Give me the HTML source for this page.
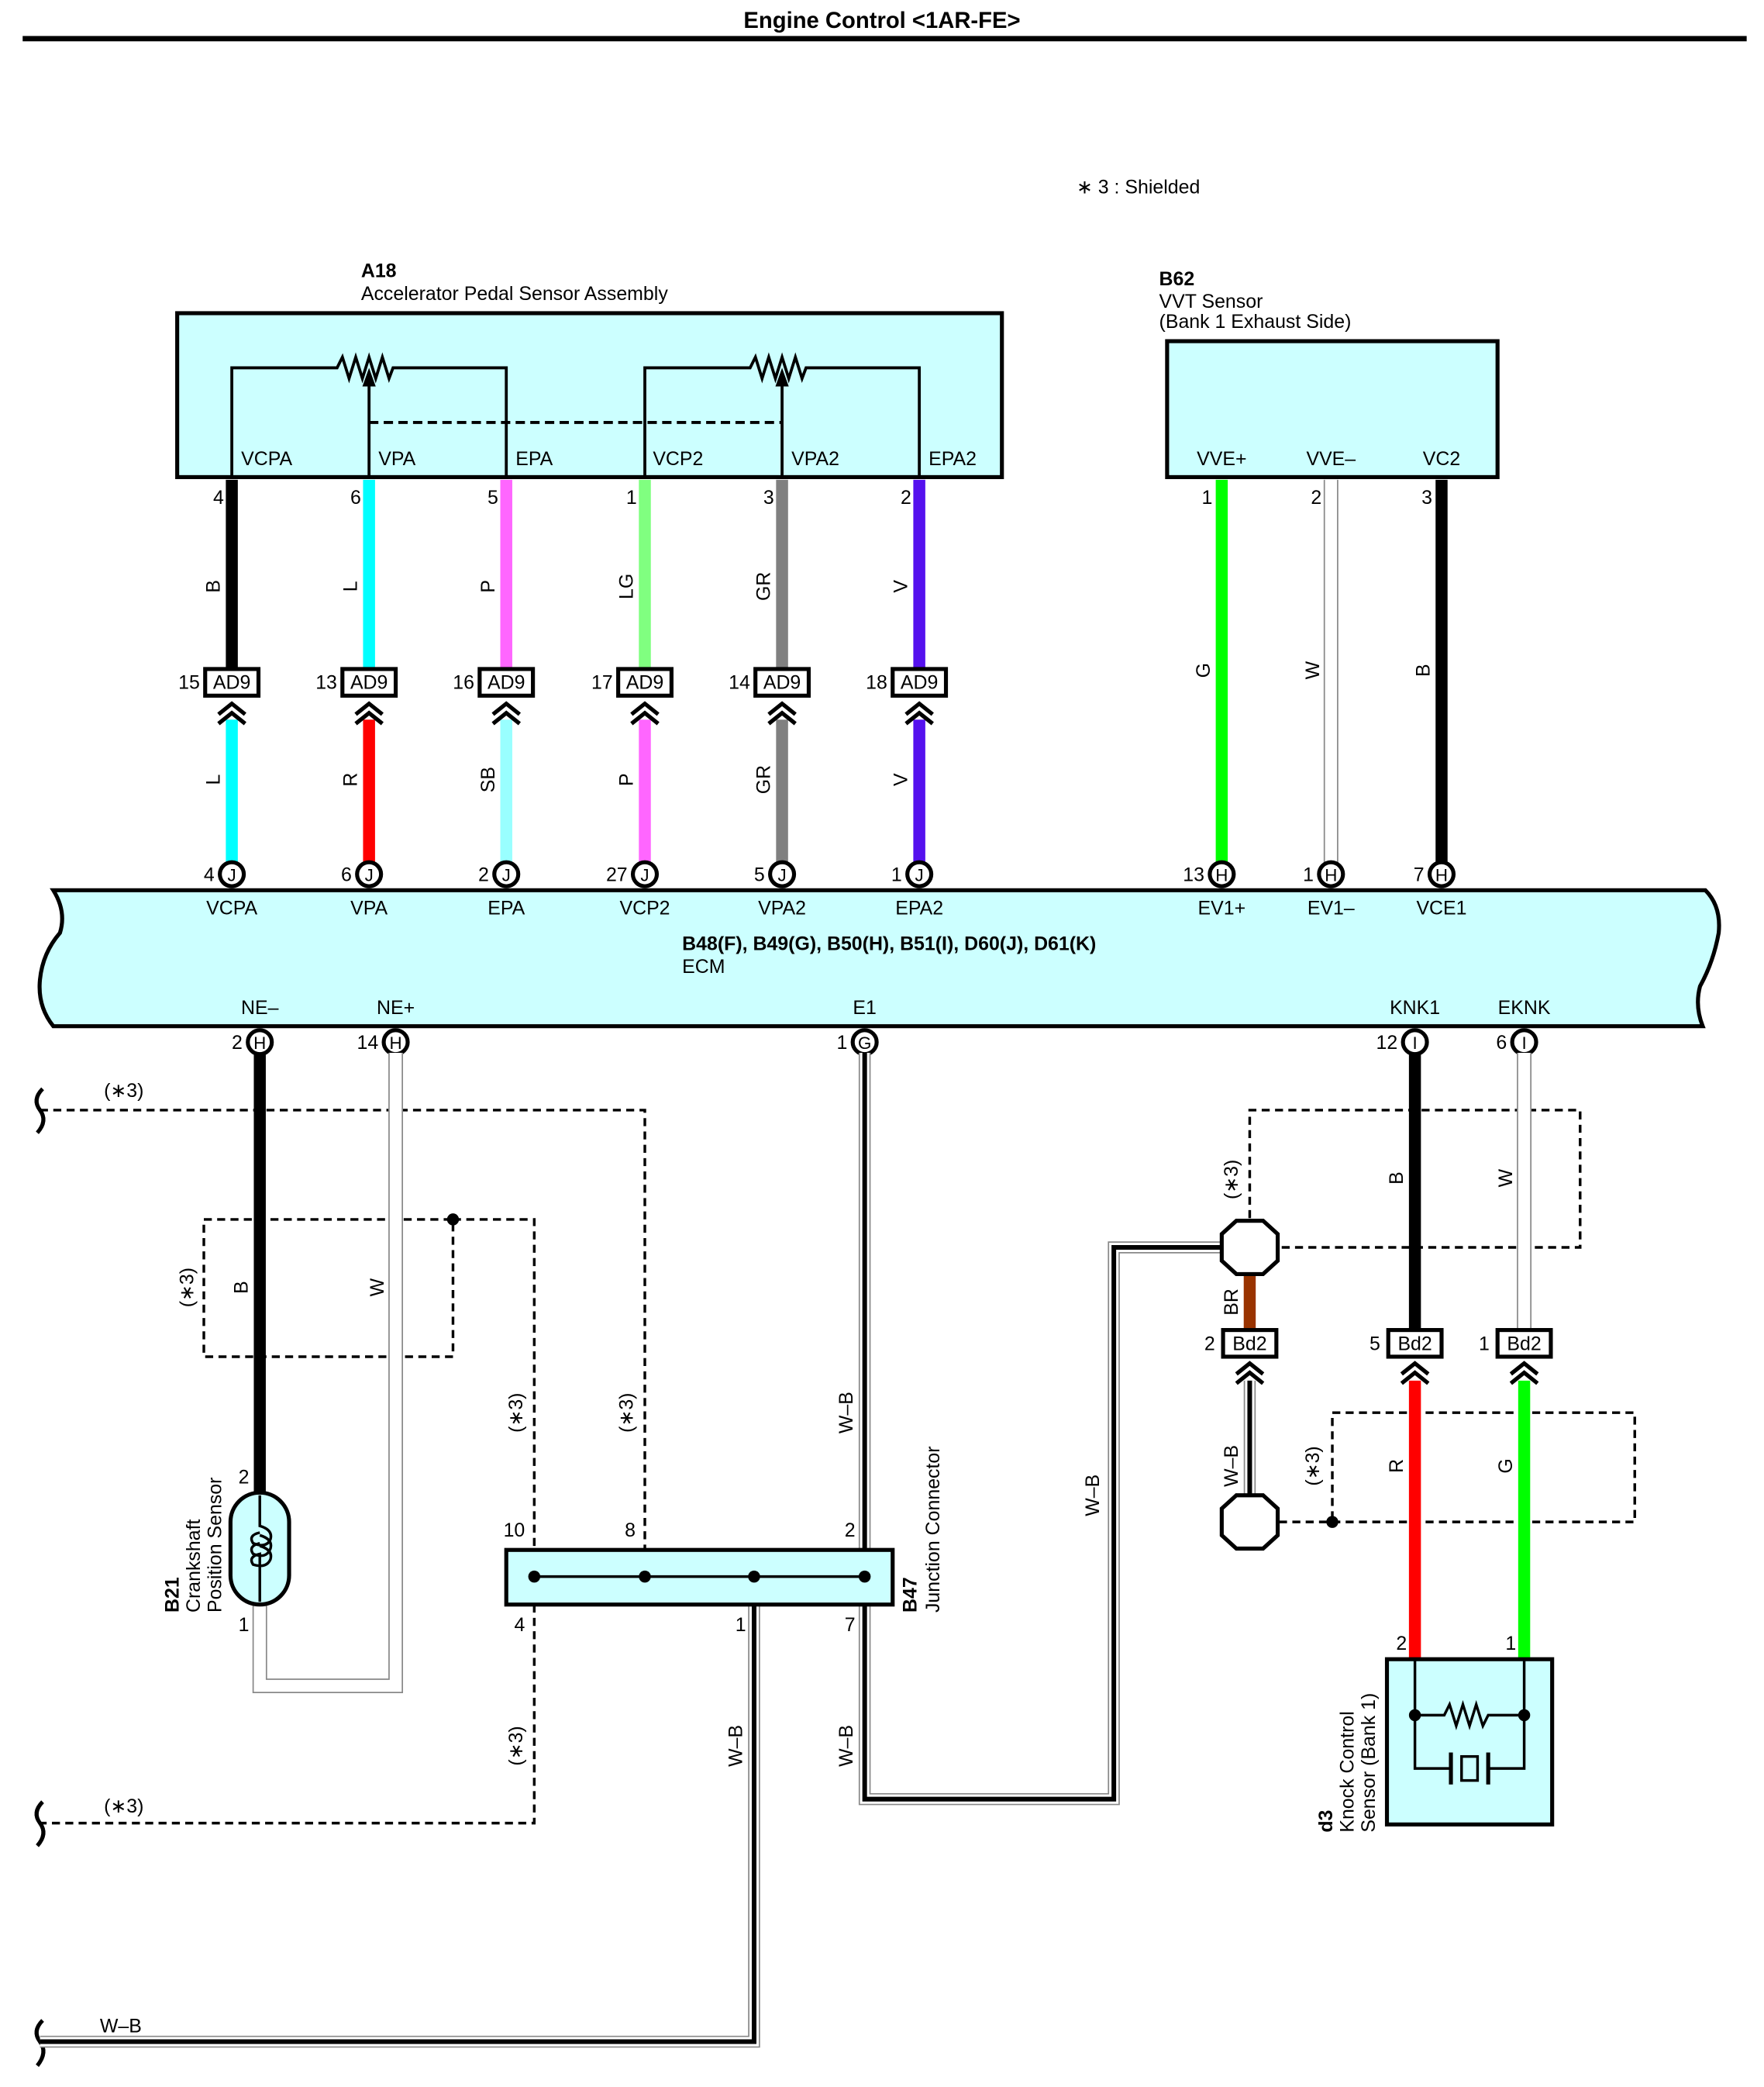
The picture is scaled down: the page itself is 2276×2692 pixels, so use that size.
<!DOCTYPE html>
<html><head><meta charset="utf-8"><style>
html,body{margin:0;padding:0;background:#fff}
svg{display:block}
text{font-family:"Liberation Sans",sans-serif;font-size:14.5px;fill:#000}
.b{font-weight:bold}
.c{text-anchor:middle}
.e{text-anchor:end}
</style></head><body>
<svg width="2276" height="2692" viewBox="0 0 1324 1566" xmlns="http://www.w3.org/2000/svg">
<defs>
<g id="ch" fill="none" stroke="#000" stroke-width="3"><polyline points="-10,9 0,1 10,9"/><polyline points="-10,16 0,8 10,16"/></g>
</defs>
<rect width="1324" height="1566" fill="#fff"/>
<text x="662" y="21" class="b c" style="font-size:17px">Engine Control &lt;1AR-FE&gt;</text>
<rect x="17" y="27" width="1294" height="4" fill="#000"/>
<text x="808" y="145">∗ 3 : Shielded</text>

<!-- A18 -->
<text x="271" y="208" class="b">A18</text>
<text x="271" y="225">Accelerator Pedal Sensor Assembly</text>
<rect x="133" y="235" width="619" height="123" fill="#ccffff" stroke="#000" stroke-width="3"/>
<g fill="none" stroke="#000" stroke-width="2.2">
<polyline points="174,358 174,276 253,276 257,268 262,284 267,268 272,284 277,268 282,284 287,268 292,284 295,276 380,276 380,358"/>
<line x1="277" y1="358" x2="277" y2="288"/>
<polyline points="484,358 484,276 563,276 567,268 572,284 577,268 582,284 587,268 592,284 597,268 602,284 605,276 690,276 690,358"/>
<line x1="587" y1="358" x2="587" y2="288"/>
<line x1="277" y1="317" x2="586" y2="317" stroke-dasharray="7,4"/>
</g>
<polygon points="277,276 272,290 282,290" fill="#000"/>
<polygon points="587,276 582,290 592,290" fill="#000"/>
<text x="181" y="349">VCPA</text><text x="284" y="349">VPA</text><text x="387" y="349">EPA</text>
<text x="490" y="349">VCP2</text><text x="594" y="349">VPA2</text><text x="697" y="349">EPA2</text>

<!-- upper wires A18 -->
<g stroke-width="9">
<line x1="174" y1="360" x2="174" y2="502" stroke="#000"/>
<line x1="277" y1="360" x2="277" y2="502" stroke="#00ffff"/>
<line x1="380" y1="360" x2="380" y2="502" stroke="#ff66ff"/>
<line x1="484" y1="360" x2="484" y2="502" stroke="#80ff80"/>
<line x1="587" y1="360" x2="587" y2="502" stroke="#808080"/>
<line x1="690" y1="360" x2="690" y2="502" stroke="#5511ee"/>
<line x1="174" y1="540" x2="174" y2="650" stroke="#00ffff"/>
<line x1="277" y1="540" x2="277" y2="650" stroke="#ff0000"/>
<line x1="380" y1="540" x2="380" y2="650" stroke="#99ffff"/>
<line x1="484" y1="540" x2="484" y2="650" stroke="#ff66ff"/>
<line x1="587" y1="540" x2="587" y2="650" stroke="#808080"/>
<line x1="690" y1="540" x2="690" y2="650" stroke="#5511ee"/>
</g>
<text x="168" y="378" class="e">4</text><text x="271" y="378" class="e">6</text><text x="374" y="378" class="e">5</text>
<text x="478" y="378" class="e">1</text><text x="581" y="378" class="e">3</text><text x="684" y="378" class="e">2</text>
<g>
<text transform="translate(165,440) rotate(-90)" class="c">B</text>
<text transform="translate(268,440) rotate(-90)" class="c">L</text>
<text transform="translate(371,440) rotate(-90)" class="c">P</text>
<text transform="translate(475,440) rotate(-90)" class="c">LG</text>
<text transform="translate(578,440) rotate(-90)" class="c">GR</text>
<text transform="translate(681,440) rotate(-90)" class="c">V</text>
<text transform="translate(165,585) rotate(-90)" class="c">L</text>
<text transform="translate(268,585) rotate(-90)" class="c">R</text>
<text transform="translate(371,585) rotate(-90)" class="c">SB</text>
<text transform="translate(475,585) rotate(-90)" class="c">P</text>
<text transform="translate(578,585) rotate(-90)" class="c">GR</text>
<text transform="translate(681,585) rotate(-90)" class="c">V</text>
</g>
<!-- AD9 connectors -->
<g fill="#fff" stroke="#000" stroke-width="3">
<rect x="154" y="502" width="40" height="20"/><rect x="257" y="502" width="40" height="20"/><rect x="360" y="502" width="40" height="20"/>
<rect x="464" y="502" width="40" height="20"/><rect x="567" y="502" width="40" height="20"/><rect x="670" y="502" width="40" height="20"/>
</g>
<text x="174" y="517" class="c">AD9</text><text x="277" y="517" class="c">AD9</text><text x="380" y="517" class="c">AD9</text>
<text x="484" y="517" class="c">AD9</text><text x="587" y="517" class="c">AD9</text><text x="690" y="517" class="c">AD9</text>
<text x="150" y="517" class="e">15</text><text x="253" y="517" class="e">13</text><text x="356" y="517" class="e">16</text>
<text x="460" y="517" class="e">17</text><text x="563" y="517" class="e">14</text><text x="666" y="517" class="e">18</text>
<use href="#ch" x="174" y="527"/><use href="#ch" x="277" y="527"/><use href="#ch" x="380" y="527"/>
<use href="#ch" x="484" y="527"/><use href="#ch" x="587" y="527"/><use href="#ch" x="690" y="527"/>

<!-- B62 -->
<text x="870" y="214" class="b">B62</text>
<text x="870" y="231">VVT Sensor</text>
<text x="870" y="246">(Bank 1 Exhaust Side)</text>
<rect x="876" y="256" width="248" height="102" fill="#ccffff" stroke="#000" stroke-width="3"/>
<text x="917" y="349" class="c">VVE+</text><text x="999" y="349" class="c">VVE–</text><text x="1082" y="349" class="c">VC2</text>
<line x1="917" y1="360" x2="917" y2="650" stroke="#00ff00" stroke-width="9"/>
<line x1="999" y1="360" x2="999" y2="650" stroke="#888" stroke-width="11"/>
<line x1="999" y1="360" x2="999" y2="650" stroke="#fff" stroke-width="9"/>
<line x1="1082" y1="360" x2="1082" y2="650" stroke="#000" stroke-width="9"/>
<text x="910" y="378" class="e">1</text><text x="992" y="378" class="e">2</text><text x="1075" y="378" class="e">3</text>
<text transform="translate(908,503) rotate(-90)" class="c">G</text>
<text transform="translate(990,503) rotate(-90)" class="c">W</text>
<text transform="translate(1073,503) rotate(-90)" class="c">B</text>

<!-- ECM -->
<path d="M40,668 L1280,668 Q1292,680 1290,700 Q1286,722 1276,740 Q1272,755 1278,770 L40,770 Q28,755 30,735 Q32,715 45,700 Q50,684 40,668 Z" fill="#ccffff" stroke="#000" stroke-width="3"/>
<g fill="#fff" stroke="#000" stroke-width="3">
<circle cx="174" cy="656" r="9"/><circle cx="277" cy="656" r="9"/><circle cx="380" cy="656" r="9"/>
<circle cx="484" cy="656" r="9"/><circle cx="587" cy="656" r="9"/><circle cx="690" cy="656" r="9"/>
<circle cx="917" cy="656" r="9"/><circle cx="999" cy="656" r="9"/><circle cx="1082" cy="656" r="9"/>
<circle cx="195" cy="782" r="9"/><circle cx="297" cy="782" r="9"/><circle cx="649" cy="782" r="9"/>
<circle cx="1062" cy="782" r="9"/><circle cx="1144" cy="782" r="9"/>
</g>
<g style="font-size:13px">
<text x="174" y="661" class="c" style="font-size:13px">J</text><text x="277" y="661" class="c" style="font-size:13px">J</text><text x="380" y="661" class="c" style="font-size:13px">J</text>
<text x="484" y="661" class="c" style="font-size:13px">J</text><text x="587" y="661" class="c" style="font-size:13px">J</text><text x="690" y="661" class="c" style="font-size:13px">J</text>
<text x="917" y="661" class="c" style="font-size:13px">H</text><text x="999" y="661" class="c" style="font-size:13px">H</text><text x="1082" y="661" class="c" style="font-size:13px">H</text>
<text x="195" y="787" class="c" style="font-size:13px">H</text><text x="297" y="787" class="c" style="font-size:13px">H</text><text x="649" y="787" class="c" style="font-size:13px">G</text>
<text x="1062" y="787" class="c" style="font-size:13px">I</text><text x="1144" y="787" class="c" style="font-size:13px">I</text>
</g>
<text x="161" y="661" class="e">4</text><text x="264" y="661" class="e">6</text><text x="367" y="661" class="e">2</text>
<text x="471" y="661" class="e">27</text><text x="574" y="661" class="e">5</text><text x="677" y="661" class="e">1</text>
<text x="904" y="661" class="e">13</text><text x="986" y="661" class="e">1</text><text x="1069" y="661" class="e">7</text>
<text x="182" y="787" class="e">2</text><text x="284" y="787" class="e">14</text><text x="636" y="787" class="e">1</text>
<text x="1049" y="787" class="e">12</text><text x="1131" y="787" class="e">6</text>
<text x="174" y="686" class="c">VCPA</text><text x="277" y="686" class="c">VPA</text><text x="380" y="686" class="c">EPA</text>
<text x="484" y="686" class="c">VCP2</text><text x="587" y="686" class="c">VPA2</text><text x="690" y="686" class="c">EPA2</text>
<text x="917" y="686" class="c">EV1+</text><text x="999" y="686" class="c">EV1–</text><text x="1082" y="686" class="c">VCE1</text>
<text x="512" y="713" class="b">B48(F), B49(G), B50(H), B51(I), D60(J), D61(K)</text>
<text x="512" y="730">ECM</text>
<text x="195" y="761" class="c">NE–</text><text x="297" y="761" class="c">NE+</text><text x="649" y="761" class="c">E1</text>
<text x="1062" y="761" class="c">KNK1</text><text x="1144" y="761" class="c">EKNK</text>

<!-- left bottom -->
<g fill="none" stroke="#000" stroke-width="2" stroke-dasharray="6,4">
<polyline points="30,833 484,833 484,1183"/>
<rect x="153" y="915" width="187" height="103"/>
<polyline points="340,915 401,915 401,1368 30,1368"/>
<polyline points="938,914 938,833 1186,833 1186,936 960,936"/>
<polyline points="960,1142 1227,1142 1227,1060 1000,1060 1000,1142"/>
</g>
<g fill="none" stroke="#000" stroke-width="3">
<path d="M32,817 Q24,825 30,833 Q36,841 28,850"/>
<path d="M32,1352 Q24,1360 30,1368 Q36,1376 28,1385"/>
<path d="M32,1516 Q24,1524 30,1532 Q36,1540 28,1550"/>
</g>
<circle cx="340" cy="915" r="4.5"/>
<circle cx="1000" cy="1142" r="4.5"/>
<text x="78" y="823">(∗3)</text><text x="78" y="1360">(∗3)</text>
<text transform="translate(145,966) rotate(-90)" class="c">(∗3)</text>
<text transform="translate(392,1060) rotate(-90)" class="c">(∗3)</text>
<text transform="translate(475,1060) rotate(-90)" class="c">(∗3)</text>
<text transform="translate(392,1310) rotate(-90)" class="c">(∗3)</text>
<text transform="translate(929,885) rotate(-90)" class="c">(∗3)</text>
<text transform="translate(990,1100) rotate(-90)" class="c">(∗3)</text>

<!-- NE+ white loop -->
<polyline points="195,1200 195,1265 297,1265 297,790" fill="none" stroke="#888" stroke-width="11"/>
<polyline points="195,1200 195,1265 297,1265 297,790" fill="none" stroke="#fff" stroke-width="9"/>
<line x1="195" y1="790" x2="195" y2="1122" stroke="#000" stroke-width="9"/>
<text transform="translate(186,966) rotate(-90)" class="c">B</text>
<text transform="translate(288,966) rotate(-90)" class="c">W</text>
<!-- B21 -->
<rect x="173" y="1120" width="44" height="84" rx="22" fill="#ccffff" stroke="#000" stroke-width="3"/>
<path d="M195,1122 L195,1145 Q205,1148 203,1155 Q200,1162 190,1158 Q186,1152 195,1150 M195,1152 Q205,1155 203,1162 Q200,1170 190,1166 Q186,1160 195,1158 M195,1160 Q205,1163 203,1170 Q200,1177 190,1174 Q186,1168 195,1166 L195,1202" fill="none" stroke="#000" stroke-width="2"/>
<text x="187" y="1113" class="e">2</text><text x="187" y="1224" class="e">1</text>
<text transform="translate(134,1210) rotate(-90)" class="b">B21</text>
<text transform="translate(150,1210) rotate(-90)">Crankshaft</text>
<text transform="translate(166,1210) rotate(-90)">Position Sensor</text>

<!-- W-B wires -->
<g fill="none" stroke-linejoin="miter">
<polyline points="649,790 649,1163" stroke="#888" stroke-width="9"/>
<polyline points="649,790 649,1163" stroke="#fff" stroke-width="7"/>
<polyline points="649,790 649,1163" stroke="#000" stroke-width="3.5"/>
<polyline points="649,1204 649,1350 836,1350 836,936 916,936" stroke="#888" stroke-width="9"/>
<polyline points="649,1204 649,1350 836,1350 836,936 916,936" stroke="#fff" stroke-width="7"/>
<polyline points="649,1204 649,1350 836,1350 836,936 916,936" stroke="#000" stroke-width="3.5"/>
<polyline points="566,1204 566,1532 30,1532" stroke="#888" stroke-width="9"/>
<polyline points="566,1204 566,1532 30,1532" stroke="#fff" stroke-width="7"/>
<polyline points="566,1204 566,1532 30,1532" stroke="#000" stroke-width="3.5"/>
<line x1="938" y1="1036" x2="938" y2="1122" stroke="#888" stroke-width="9"/>
<line x1="938" y1="1036" x2="938" y2="1122" stroke="#fff" stroke-width="7"/>
<line x1="938" y1="1036" x2="938" y2="1122" stroke="#000" stroke-width="3.5"/>
</g>
<text transform="translate(640,1060) rotate(-90)" class="c">W–B</text>
<text transform="translate(640,1310) rotate(-90)" class="c">W–B</text>
<text transform="translate(557,1310) rotate(-90)" class="c">W–B</text>
<text transform="translate(825,1122) rotate(-90)" class="c">W–B</text>
<text transform="translate(929,1100) rotate(-90)" class="c">W–B</text>
<text x="75" y="1525">W–B</text>

<!-- B47 junction -->
<rect x="380" y="1163" width="290" height="41" fill="#ccffff" stroke="#000" stroke-width="3"/>
<line x1="401" y1="1183" x2="649" y2="1183" stroke="#000" stroke-width="2"/>
<circle cx="401" cy="1183" r="4.5"/><circle cx="484" cy="1183" r="4.5"/><circle cx="566" cy="1183" r="4.5"/><circle cx="649" cy="1183" r="4.5"/>
<text x="394" y="1153" class="e">10</text><text x="477" y="1153" class="e">8</text><text x="642" y="1153" class="e">2</text>
<text x="394" y="1224" class="e">4</text><text x="560" y="1224" class="e">1</text><text x="642" y="1224" class="e">7</text>
<text transform="translate(688,1210) rotate(-90)" class="b">B47</text>
<text transform="translate(705,1210) rotate(-90)">Junction Connector</text>

<!-- right bottom -->
<line x1="938" y1="956" x2="938" y2="998" stroke="#993300" stroke-width="9"/>
<line x1="1062" y1="790" x2="1062" y2="998" stroke="#000" stroke-width="9"/>
<line x1="1144" y1="790" x2="1144" y2="998" stroke="#888" stroke-width="11"/>
<line x1="1144" y1="790" x2="1144" y2="998" stroke="#fff" stroke-width="9"/>
<line x1="1062" y1="1036" x2="1062" y2="1245" stroke="#ff0000" stroke-width="9"/>
<line x1="1144" y1="1036" x2="1144" y2="1245" stroke="#00ff00" stroke-width="9"/>
<text transform="translate(929,977) rotate(-90)" class="c">BR</text>
<text transform="translate(1053,884) rotate(-90)" class="c">B</text>
<text transform="translate(1135,884) rotate(-90)" class="c">W</text>
<text transform="translate(1053,1100) rotate(-90)" class="c">R</text>
<text transform="translate(1135,1100) rotate(-90)" class="c">G</text>
<g fill="#fff" stroke="#000" stroke-width="3">
<polygon points="928,916 948,916 959,926 959,946 948,956 928,956 917,946 917,926"/>
<polygon points="928,1122 948,1122 959,1132 959,1152 948,1162 928,1162 917,1152 917,1132"/>
<rect x="918" y="998" width="40" height="20"/><rect x="1042" y="998" width="40" height="20"/><rect x="1124" y="998" width="40" height="20"/>
</g>
<text x="938" y="1013" class="c">Bd2</text><text x="1062" y="1013" class="c">Bd2</text><text x="1144" y="1013" class="c">Bd2</text>
<text x="912" y="1013" class="e">2</text><text x="1036" y="1013" class="e">5</text><text x="1118" y="1013" class="e">1</text>
<use href="#ch" x="938" y="1022"/><use href="#ch" x="1062" y="1022"/><use href="#ch" x="1144" y="1022"/>

<!-- d3 -->
<rect x="1041" y="1245" width="124" height="124" fill="#ccffff" stroke="#000" stroke-width="3"/>
<g fill="none" stroke="#000" stroke-width="2">
<polyline points="1062,1245 1062,1327 1089,1327"/>
<polyline points="1144,1245 1144,1327 1117,1327"/>
<polyline points="1062,1287 1084,1287 1088,1279 1093,1295 1098,1279 1103,1295 1108,1279 1113,1295 1117,1287 1144,1287"/>
<line x1="1089" y1="1315" x2="1089" y2="1339" stroke-width="3"/>
<line x1="1117" y1="1315" x2="1117" y2="1339" stroke-width="3"/>
<rect x="1097" y="1318" width="12" height="18"/>
</g>
<circle cx="1062" cy="1287" r="4.5"/><circle cx="1144" cy="1287" r="4.5"/>
<text x="1056" y="1238" class="e">2</text><text x="1138" y="1238" class="e">1</text>
<text transform="translate(1000,1375) rotate(-90)" class="b">d3</text>
<text transform="translate(1016,1375) rotate(-90)">Knock Control</text>
<text transform="translate(1032,1375) rotate(-90)">Sensor (Bank 1)</text>
</svg>
</body></html>
